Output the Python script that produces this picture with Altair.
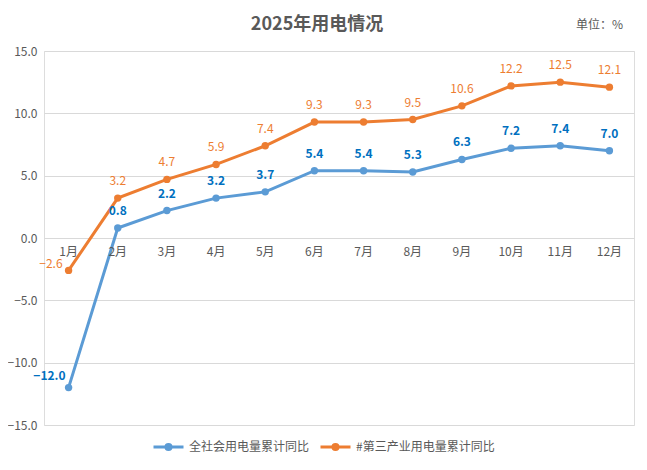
import altair as alt
import pandas as pd

months = ["1月", "2月", "3月", "4月", "5月", "6月", "7月", "8月", "9月", "10月", "11月", "12月"]
series_names = ["全社会用电量累计同比", "#第三产业用电量累计同比"]
total = [-12.0, 0.8, 2.2, 3.2, 3.7, 5.4, 5.4, 5.3, 6.3, 7.2, 7.4, 7.0]
tertiary = [-2.6, 3.2, 4.7, 5.9, 7.4, 9.3, 9.3, 9.5, 10.6, 12.2, 12.5, 12.1]
y_ticks = [-15, -10, -5, 0, 5, 10, 15]

rows = []
for m, a, b in zip(months, total, tertiary):
    rows.append({"month": m, "series": series_names[0], "value": a})
    rows.append({"month": m, "series": series_names[1], "value": b})
df = pd.DataFrame(rows)
mdf = pd.DataFrame({"month": months, "zero": [0] * len(months)})

FONT = "Noto Sans CJK SC"
GRAY = "#595959"
LINE_COLORS = ["#5B9BD5", "#ED7D31"]
LABEL_COLORS = {series_names[0]: "#0070C0", series_names[1]: "#ED7D31"}
JAN_OFFSETS = {series_names[0]: (-3, -12), series_names[1]: (-6, -6)}

xscale = alt.Scale(type="point", padding=0.5)
x = alt.X("month:N", sort=months, scale=xscale, axis=None)
yscale = alt.Scale(domain=[-15, 15], nice=False)
y = alt.Y("value:Q", scale=yscale,
          axis=alt.Axis(values=y_ticks, format=".1f", title=None, domain=False, ticks=False,
                        labelColor=GRAY, labelFontSize=12, labelPadding=7, labelFont=FONT,
                        gridColor="#D9D9D9", gridWidth=1))
cscale = alt.Scale(domain=series_names, range=LINE_COLORS)

legend_path = "M-1,0 L1,0 M0.17,0 A0.17,0.17 0 1,1 -0.17,0 A0.17,0.17 0 1,1 0.17,0"

base = alt.Chart(df)
lines = base.mark_line(strokeWidth=3).encode(
    x=x, y=y,
    color=alt.Color("series:N", sort=series_names, scale=cscale,
                    legend=alt.Legend(title=None, orient="none", direction="horizontal",
                                      legendX=108, legendY=379, symbolType=legend_path,
                                      symbolSize=900, symbolStrokeWidth=3, symbolOpacity=1,
                                      labelFont=FONT, labelFontSize=12, labelColor=GRAY,
                                      columnPadding=4, labelOffset=4)))
points = base.mark_point(filled=True, size=55, opacity=1).encode(
    x=x, y=y, color=alt.Color("series:N", sort=series_names, scale=cscale))

label_layers = []
for s in series_names:
    weight = "bold" if s == series_names[0] else "normal"
    sub = base.transform_filter(alt.datum.series == s)
    label_layers.append(
        sub.transform_filter(alt.datum.month != months[0]).mark_text(
            dy=-17, fontSize=12, font=FONT, fontWeight=weight, color=LABEL_COLORS[s]
        ).encode(x=x, y=y, text=alt.Text("value:Q", format=".1f"))
    )
    jdx, jdy = JAN_OFFSETS[s]
    label_layers.append(
        sub.transform_filter(alt.datum.month == months[0]).mark_text(
            align="right", dx=jdx, dy=jdy, fontSize=12, font=FONT, fontWeight=weight,
            color=LABEL_COLORS[s]
        ).encode(x=x, y=y, text=alt.Text("value:Q", format=".1f"))
    )

month_labels = alt.Chart(mdf).mark_text(dy=14, fontSize=12, font=FONT, color=GRAY).encode(
    x=alt.X("month:N", sort=months, scale=xscale, axis=None),
    y=alt.Y("zero:Q", scale=yscale),
    text="month:N",
)

unit = alt.Chart(mdf.head(1)).mark_text(align="right", fontSize=12, font=FONT, color=GRAY).encode(
    x=alt.value(579), y=alt.value(-26), text=alt.value("单位：%")
)

chart = alt.layer(lines, points, *label_layers, month_labels, unit).properties(
    width=590, height=374,
    title=alt.TitleParams("2025年用电情况", fontSize=18, font=FONT, fontWeight="bold",
                          color=GRAY, anchor="middle", dx=-22, offset=-15),
    autosize=alt.AutoSizeParams(type="none"),
    padding={"left": 36, "top": 43, "right": 5, "bottom": 37},
).configure_view(stroke=None).configure(background="white")

chart.save("out.html", embed_options={"renderer": "svg", "actions": False})
